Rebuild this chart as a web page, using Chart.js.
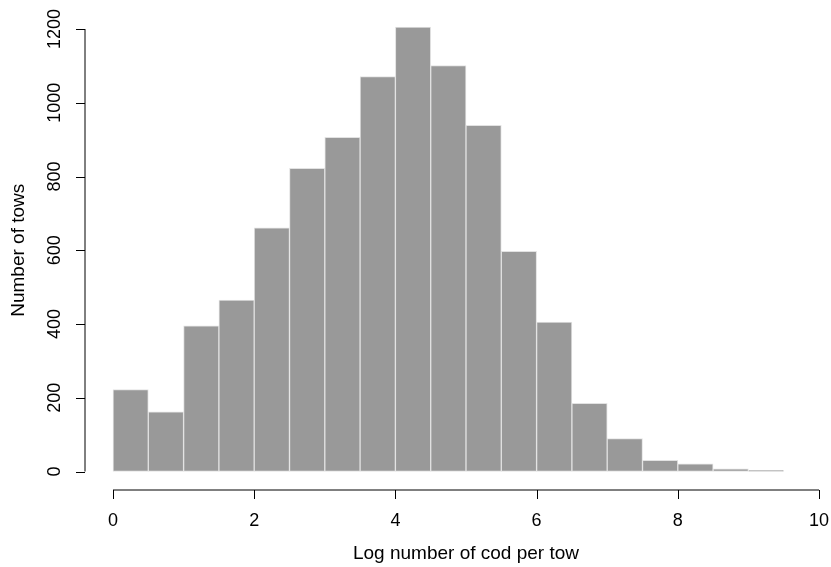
<!DOCTYPE html>
<html>
<head>
<meta charset="utf-8">
<title>Log number of cod per tow</title>
<script src="https://cdn.jsdelivr.net/npm/chart.js@4.4.1/dist/chart.umd.min.js"></script>
<style>
  html, body { margin: 0; padding: 0; background: #ffffff; }
  canvas { display: block; }
</style>
</head>
<body>
<canvas id="codHist" width="831" height="567"></canvas>
<script>
// histogram bins, width 0.5 on the log scale
const binStarts = [0, 0.5, 1, 1.5, 2, 2.5, 3, 3.5, 4, 4.5, 5, 5.5, 6, 6.5, 7, 7.5, 8, 8.5, 9, 9.5];
const binWidth = 0.5;
const towCounts = [222, 162, 395, 465, 661, 822, 906, 1071, 1205, 1101, 939, 597, 405, 185, 89, 30, 21, 7, 3, 0];

const xTicks = [0, 2, 4, 6, 8, 10];
const yTicks = [0, 200, 400, 600, 800, 1000, 1200];

const fontFamily = '"Liberation Sans", Arial, Helvetica, sans-serif';

const points = binStarts.map((s, i) => ({ x: s + binWidth / 2, y: towCounts[i] }));

// no extra room for edge labels, plot area is set by layout padding
function fixSize(s, w, h) {
    if (w !== null) s.width = w;
    if (h !== null) s.height = h;
    s.paddingTop = 0;
    s.paddingBottom = 0;
    s.paddingLeft = 0;
    s.paddingRight = 0;
}

// R style axes: drawn a bit away from the bars
const detachedAxes = {
    id: 'detachedAxes',
    afterDraw(chart) {
        const c = chart.ctx;
        const xs = chart.scales.x;
        const ys = chart.scales.y;
        const axisY = ys.getPixelForValue(0) + 18.5;
        const axisX = xs.getPixelForValue(0) - 28;
        c.save();
        c.strokeStyle = '#000000';
        c.lineWidth = 1;
        c.beginPath();
        c.moveTo(xs.getPixelForValue(xTicks[0]), axisY);
        c.lineTo(xs.getPixelForValue(xTicks[xTicks.length - 1]), axisY);
        xTicks.forEach(t => {
            const px = Math.round(xs.getPixelForValue(t)) + 0.5;
            c.moveTo(px, axisY);
            c.lineTo(px, axisY + 9);
        });
        c.moveTo(axisX, ys.getPixelForValue(yTicks[0]));
        c.lineTo(axisX, ys.getPixelForValue(yTicks[yTicks.length - 1]));
        yTicks.forEach(t => {
            const py = Math.round(ys.getPixelForValue(t)) + 0.5;
            c.moveTo(axisX, py);
            c.lineTo(axisX - 9, py);
        });
        c.stroke();
        c.restore();
    }
};

const ctx = document.getElementById('codHist').getContext('2d');
const chart = new Chart(ctx, {
    type: 'bar',
    data: {
        datasets: [{
            label: 'Number of tows',
            data: points,
            backgroundColor: '#999999',
            borderColor: '#e2e2e2',
            borderWidth: 1,
            borderSkipped: false,
            barPercentage: 1,
            categoryPercentage: 1,
            clip: false
        }]
    },
    options: {
        responsive: false,
        animation: false,
        events: [],
        layout: { padding: { top: 29, right: 12, left: 0, bottom: 0 } },
        plugins: {
            legend: { display: false },
            tooltip: { enabled: false }
        },
        scales: {
            x: {
                type: 'linear',
                min: 0,
                max: 10,
                offset: false,
                afterFit: s => fixSize(s, null, 95.5),
                afterBuildTicks: s => { s.ticks = xTicks.map(v => ({ value: v })); },
                grid: { display: false, drawTicks: false },
                border: { display: false },
                ticks: {
                    color: '#000000',
                    font: { family: fontFamily, size: 18 },
                    padding: 38.5,
                    maxRotation: 0,
                    callback: v => String(v)
                },
                title: {
                    display: true,
                    text: 'Log number of cod per tow',
                    color: '#000000',
                    font: { family: fontFamily, size: 19 },
                    padding: { top: 0, bottom: 2 }
                }
            },
            y: {
                min: 0,
                max: 1200,
                afterFit: s => fixSize(s, 113, null),
                afterBuildTicks: s => { s.ticks = yTicks.map(v => ({ value: v })); },
                grid: { display: false, drawTicks: false },
                border: { display: false },
                ticks: {
                    color: '#000000',
                    font: { family: fontFamily, size: 18 },
                    minRotation: 90,
                    maxRotation: 90,
                    crossAlign: 'center',
                    padding: 38,
                    callback: v => String(v)
                },
                title: {
                    display: true,
                    text: 'Number of tows',
                    color: '#000000',
                    font: { family: fontFamily, size: 19 },
                    padding: { top: 7, bottom: 0 }
                }
            }
        }
    },
    plugins: [detachedAxes]
});
</script>
</body>
</html>
